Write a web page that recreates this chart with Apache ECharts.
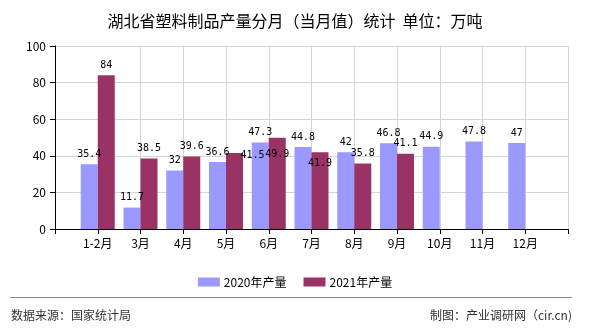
<!DOCTYPE html>
<html>
<head>
<meta charset="utf-8">
<script src="https://cdn.jsdelivr.net/npm/echarts@6/dist/echarts.min.js"></script>
<style>
html,body{margin:0;padding:0;background:#fff;}
#chart{width:590px;height:330px;}
</style>
</head>
<body>
<div id="chart"></div>
<script>
// ---- data ----
const categories = ['1-2月', '3月', '4月', '5月', '6月', '7月', '8月', '9月', '10月', '11月', '12月'];
const values2020 = [35.4, 11.7, 32, 36.6, 47.3, 44.8, 42, 46.8, 44.9, 47.8, 47];
const values2021 = [84, 38.5, 39.6, 41.5, 49.9, 41.9, 35.8, 41.1];
const seriesNames = ['2020年产量', '2021年产量'];
const yTicks = [0, 20, 40, 60, 80, 100];
const titleText = '湖北省塑料制品产量分月（当月值）统计  单位：万吨';
const sourceText = '数据来源：国家统计局';
const makerText = '制图：产业调研网（cir.cn)';

// ---- layout / style (not data) ----
const labelShift2021 = { 3: [18, 12], 4: [0, 27], 5: [0, 21] };

const axisData = [''].concat(categories, ['']);
function pad(arr) {
  const out = [null];
  for (let i = 0; i < categories.length; i++) out.push(i < arr.length ? arr[i] : null);
  out.push(null);
  return out;
}
const labelFont = { fontFamily: 'DejaVu Sans Mono', fontSize: 10, color: '#000' };

const d2020 = pad(values2020);
const d2021 = pad(values2021).map(function (v, i) {
  const k = i - 1;
  if (v != null && labelShift2021[k]) {
    return { value: v, label: { offset: labelShift2021[k] } };
  }
  return v;
});

const chart = echarts.init(document.getElementById('chart'), null, { renderer: 'canvas' });
chart.setOption({
  animation: false,
  backgroundColor: '#fff',
  title: {
    text: titleText,
    left: 'center',
    top: 8,
    textStyle: { fontFamily: 'Noto Sans CJK SC', fontSize: 16, fontWeight: 'normal', color: '#000' }
  },
  legend: {
    data: seriesNames,
    left: 'center',
    top: 271,
    icon: 'rect',
    itemWidth: 22,
    itemHeight: 9,
    itemGap: 17,
    textStyle: { fontFamily: 'Noto Sans CJK SC', fontSize: 12, color: '#000', padding: [0, 0, 0, -1] }
  },
  grid: { left: 55, right: 22, top: 46, bottom: 101, containLabel: false },
  xAxis: {
    type: 'category',
    data: axisData,
    boundaryGap: false,
    axisLine: { lineStyle: { color: '#000', width: 1 } },
    axisTick: { show: true, interval: 0, length: 5, lineStyle: { color: '#000' } },
    axisLabel: { interval: 0, margin: 8, fontFamily: 'Noto Sans CJK SC', fontSize: 12, color: '#000' },
    splitLine: {
      show: true,
      interval: function (idx) { return idx !== 1; },
      lineStyle: { color: '#d4d4d4', width: 1 }
    }
  },
  yAxis: {
    type: 'value',
    min: yTicks[0],
    max: yTicks[yTicks.length - 1],
    interval: yTicks[1] - yTicks[0],
    axisLine: { show: true, lineStyle: { color: '#000', width: 1 } },
    axisTick: { show: true, length: 5, lineStyle: { color: '#000' } },
    axisLabel: { margin: 9, fontFamily: 'Noto Sans CJK SC', fontSize: 12, color: '#000' },
    splitLine: { show: true, lineStyle: { color: '#d4d4d4', width: 1 } }
  },
  series: [
    {
      name: seriesNames[0],
      type: 'bar',
      data: d2020,
      barWidth: 17,
      barGap: '0%',
      itemStyle: { color: '#9999ff' },
      label: Object.assign({ show: true, position: 'top', distance: 5 }, labelFont)
    },
    {
      name: seriesNames[1],
      type: 'bar',
      data: d2021,
      barWidth: 17,
      barGap: '0%',
      itemStyle: { color: '#993366' },
      label: Object.assign({ show: true, position: 'top', distance: 5 }, labelFont)
    }
  ],
  graphic: [
    {
      type: 'line',
      shape: { x1: 10, y1: 297.5, x2: 572, y2: 297.5 },
      style: { stroke: '#888', lineWidth: 1 }
    },
    {
      type: 'text',
      left: 11,
      top: 309,
      style: { text: sourceText, font: '12px "Noto Sans CJK SC"', fill: '#333' }
    },
    {
      type: 'text',
      right: 18,
      top: 309,
      style: { text: makerText, font: '12px "Noto Sans CJK SC"', fill: '#333' }
    }
  ]
});
</script>
</body>
</html>
